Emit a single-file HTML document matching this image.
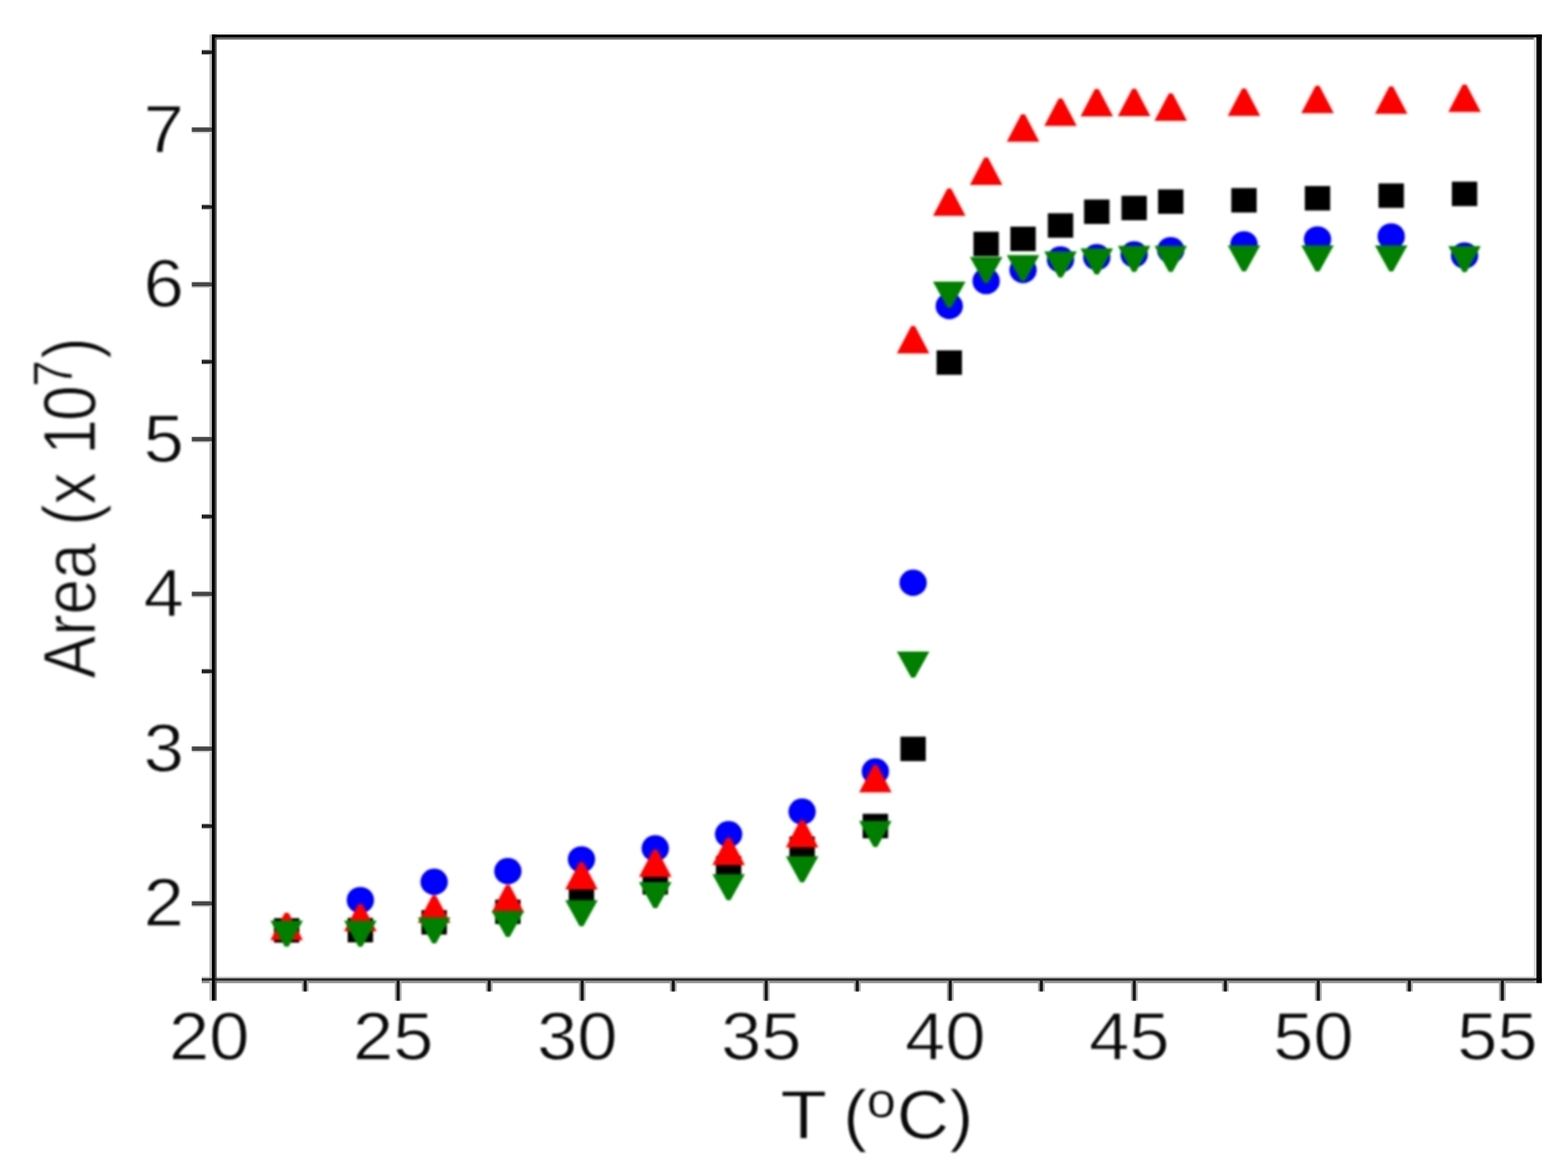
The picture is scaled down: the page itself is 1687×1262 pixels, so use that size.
<!DOCTYPE html>
<html lang="en">
<head>
<meta charset="utf-8">
<title>Area (x 10^7) versus T (oC)</title>
<style>
html,body{margin:0;padding:0;background:#fff;}
body{width:1687px;height:1262px;overflow:hidden;}
svg{display:block;}
text{font-family:"Liberation Sans",Arial,Helvetica,sans-serif;fill:#0a0a0a;stroke:#fff;stroke-width:0.9px;stroke-linejoin:round;}
text .sup{stroke-width:0.54px;}
.ax{fill:#0a0a0a;}
.k{fill:#000;}.r{fill:#ff0000;}.b{fill:#0000ff;}.g{fill:#008000;}
</style>
</head>
<body>
<svg width="1687" height="1262" viewBox="0 0 1687 1262">
<rect x="0" y="0" width="1687" height="1262" fill="#ffffff"/>
<defs>
<filter id="bt" x="0" y="0" width="1687" height="1262" filterUnits="userSpaceOnUse" color-interpolation-filters="sRGB"><feGaussianBlur stdDeviation="0.8"/></filter>
<clipPath id="plot"><rect x="250" y="60" width="1384" height="976"/></clipPath>
<filter id="soft" x="236" y="46" width="1412" height="1004" filterUnits="userSpaceOnUse" color-interpolation-filters="sRGB">
<feColorMatrix in="SourceGraphic" type="matrix" values="0.299 0.587 0.114 0 0  0.299 0.587 0.114 0 0  0.299 0.587 0.114 0 0  0 0 0 1 0" result="luma"/>
<feColorMatrix in="SourceGraphic" type="matrix" values="0.3505 -0.2935 -0.057 0 0.50196  -0.1495 0.2065 -0.057 0 0.50196  -0.1495 -0.2935 0.443 0 0.50196  0 0 0 1 0" result="chroma"/>
<feGaussianBlur in="luma" stdDeviation="0.8" result="lumaB"/>
<feGaussianBlur in="chroma" stdDeviation="2.2" result="chromaB"/>
<feComposite in="lumaB" in2="chromaB" operator="arithmetic" k1="0" k2="1" k3="2" k4="-1.00392"/>
</filter>
</defs>
<g clip-path="url(#plot)">
<g class="pts" filter="url(#soft)">
<rect x="236" y="46" width="1412" height="1004" fill="#ffffff"/>
<g class="b">
<ellipse cx="387.7" cy="968.4" rx="14.7" ry="14.2"/>
<ellipse cx="467.1" cy="948.7" rx="14.7" ry="14.2"/>
<ellipse cx="546.4" cy="937.3" rx="14.7" ry="14.2"/>
<ellipse cx="625.6" cy="924.6" rx="14.7" ry="14.2"/>
<ellipse cx="705" cy="912.7" rx="14.7" ry="14.2"/>
<ellipse cx="783.9" cy="897.5" rx="14.7" ry="14.2"/>
<ellipse cx="863" cy="873.2" rx="14.7" ry="14.2"/>
<ellipse cx="941.8" cy="830" rx="14.7" ry="14.2"/>
<ellipse cx="982.4" cy="627" rx="14.7" ry="14.2"/>
<ellipse cx="1021.3" cy="329.2" rx="14.7" ry="14.2"/>
<ellipse cx="1061" cy="302.4" rx="14.7" ry="14.2"/>
<ellipse cx="1100.7" cy="290.5" rx="14.7" ry="14.2"/>
<ellipse cx="1141" cy="279.3" rx="14.7" ry="14.2"/>
<ellipse cx="1180" cy="276.7" rx="14.7" ry="14.2"/>
<ellipse cx="1220.2" cy="273.8" rx="14.7" ry="14.2"/>
<ellipse cx="1259.6" cy="269.1" rx="14.7" ry="14.2"/>
<ellipse cx="1338.4" cy="262.9" rx="14.7" ry="14.2"/>
<ellipse cx="1417.5" cy="257.6" rx="14.7" ry="14.2"/>
<ellipse cx="1496.8" cy="254.4" rx="14.7" ry="14.2"/>
<ellipse cx="1575.7" cy="275" rx="14.7" ry="14.2"/>
</g>
<g class="k">
<rect x="294.75" y="987.85" width="27.3" height="26.3"/>
<rect x="374.05" y="987.55" width="27.3" height="26.3"/>
<rect x="453.45" y="979.15" width="27.3" height="26.3"/>
<rect x="532.75" y="967.85" width="27.3" height="26.3"/>
<rect x="611.95" y="948.85" width="27.3" height="26.3"/>
<rect x="691.35" y="936.15" width="27.3" height="26.3"/>
<rect x="770.25" y="920.85" width="27.3" height="26.3"/>
<rect x="849.35" y="899.85" width="27.3" height="26.3"/>
<rect x="928.15" y="875.55" width="27.3" height="26.3"/>
<rect x="968.75" y="792.55" width="27.3" height="26.3"/>
<rect x="1007.65" y="376.95" width="27.3" height="26.3"/>
<rect x="1047.35" y="249.35" width="27.3" height="26.3"/>
<rect x="1087.05" y="243.85" width="27.3" height="26.3"/>
<rect x="1127.35" y="229.45" width="27.3" height="26.3"/>
<rect x="1166.35" y="214.65" width="27.3" height="26.3"/>
<rect x="1206.55" y="210.65" width="27.3" height="26.3"/>
<rect x="1245.95" y="203.75" width="27.3" height="26.3"/>
<rect x="1324.75" y="202.35" width="27.3" height="26.3"/>
<rect x="1403.85" y="200.15" width="27.3" height="26.3"/>
<rect x="1483.15" y="197.35" width="27.3" height="26.3"/>
<rect x="1562.05" y="195.45" width="27.3" height="26.3"/>
</g>
<g class="r">
<polygon points="306.4,982.1 310.4,982.1 325.9,1011.6 290.9,1011.6"/>
<polygon points="385.7,972.4 389.7,972.4 405.2,1001.9 370.2,1001.9"/>
<polygon points="465.1,963.6 469.1,963.6 484.6,993.1 449.6,993.1"/>
<polygon points="544.4,952.2 548.4,952.2 563.9,981.7 528.9,981.7"/>
<polygon points="623.6,927.4 627.6,927.4 643.1,956.9 608.1,956.9"/>
<polygon points="703,914.1 707,914.1 722.5,943.6 687.5,943.6"/>
<polygon points="781.9,901.2 785.9,901.2 801.4,930.7 766.4,930.7"/>
<polygon points="861,882.2 865,882.2 880.5,911.7 845.5,911.7"/>
<polygon points="939.8,823.1 943.8,823.1 959.3,852.6 924.3,852.6"/>
<polygon points="980.4,350.7 984.4,350.7 999.9,380.2 964.9,380.2"/>
<polygon points="1019.3,202.7 1023.3,202.7 1038.8,232.2 1003.8,232.2"/>
<polygon points="1059,169.4 1063,169.4 1078.5,198.9 1043.5,198.9"/>
<polygon points="1098.7,122.9 1102.7,122.9 1118.2,152.4 1083.2,152.4"/>
<polygon points="1139,106.1 1143,106.1 1158.5,135.6 1123.5,135.6"/>
<polygon points="1178,95.8 1182,95.8 1197.5,125.3 1162.5,125.3"/>
<polygon points="1218.2,95.6 1222.2,95.6 1237.7,125.1 1202.7,125.1"/>
<polygon points="1257.6,100.4 1261.6,100.4 1277.1,129.9 1242.1,129.9"/>
<polygon points="1336.4,95.3 1340.4,95.3 1355.9,124.8 1320.9,124.8"/>
<polygon points="1415.5,92.2 1419.5,92.2 1435,121.7 1400,121.7"/>
<polygon points="1494.8,93 1498.8,93 1514.3,122.5 1479.3,122.5"/>
<polygon points="1573.7,91.1 1577.7,91.1 1593.2,120.6 1558.2,120.6"/>
</g>
<g class="g">
<polygon points="290.9,990.6 325.9,990.6 310.4,1018.6 306.4,1018.6"/>
<polygon points="370.2,990.6 405.2,990.6 389.7,1018.6 385.7,1018.6"/>
<polygon points="449.6,987 484.6,987 469.1,1015 465.1,1015"/>
<polygon points="528.9,980 563.9,980 548.4,1008 544.4,1008"/>
<polygon points="608.1,968.5 643.1,968.5 627.6,996.5 623.6,996.5"/>
<polygon points="687.5,949.1 722.5,949.1 707,977.1 703,977.1"/>
<polygon points="766.4,940.4 801.4,940.4 785.9,968.4 781.9,968.4"/>
<polygon points="845.5,921.2 880.5,921.2 865,949.2 861,949.2"/>
<polygon points="924.3,883.2 959.3,883.2 943.8,911.2 939.8,911.2"/>
<polygon points="964.9,701 999.9,701 984.4,729 980.4,729"/>
<polygon points="1003.8,303.1 1038.8,303.1 1023.3,331.1 1019.3,331.1"/>
<polygon points="1043.5,276.6 1078.5,276.6 1063,304.6 1059,304.6"/>
<polygon points="1083.2,274.6 1118.2,274.6 1102.7,302.6 1098.7,302.6"/>
<polygon points="1123.5,270.6 1158.5,270.6 1143,298.6 1139,298.6"/>
<polygon points="1162.5,267.3 1197.5,267.3 1182,295.3 1178,295.3"/>
<polygon points="1202.7,264.6 1237.7,264.6 1222.2,292.6 1218.2,292.6"/>
<polygon points="1242.1,264.5 1277.1,264.5 1261.6,292.5 1257.6,292.5"/>
<polygon points="1320.9,264.1 1355.9,264.1 1340.4,292.1 1336.4,292.1"/>
<polygon points="1400,264.1 1435,264.1 1419.5,292.1 1415.5,292.1"/>
<polygon points="1479.3,264.1 1514.3,264.1 1498.8,292.1 1494.8,292.1"/>
<polygon points="1558.2,264.8 1593.2,264.8 1577.7,292.8 1573.7,292.8"/>
</g>
</g>
</g>
<g class="frame">
<rect x="217" y="1050.6" width="1441.8" height="1.8" fill="#d0d0d0"/>
<rect x="217" y="1055" width="1441.8" height="2.7" fill="#8c8c8c"/>
<rect x="228" y="40.2" width="1430.8" height="2.4" fill="#666666"/>
<rect x="225.4" y="37.2" width="2.7" height="1039.4" fill="#b8b8b8"/>
<rect x="231" y="37.2" width="2.2" height="1039.4" fill="#555555"/>
<rect x="1650.2" y="40" width="3" height="1015.6" fill="#d6d6d6"/>
<rect x="324.7" y="1056" width="7.2" height="10.6" fill="#a6a6a6"/>
<rect x="326.7" y="1054" width="3.2" height="12.6" fill="#161616"/>
<rect x="424.7" y="1056" width="7.2" height="20.6" fill="#a6a6a6"/>
<rect x="426.7" y="1054" width="3.2" height="22.6" fill="#161616"/>
<rect x="522.7" y="1056" width="7.2" height="10.6" fill="#a6a6a6"/>
<rect x="524.7" y="1054" width="3.2" height="12.6" fill="#161616"/>
<rect x="622.7" y="1056" width="7.2" height="20.6" fill="#a6a6a6"/>
<rect x="624.7" y="1054" width="3.2" height="22.6" fill="#161616"/>
<rect x="720.7" y="1056" width="7.2" height="10.6" fill="#a6a6a6"/>
<rect x="722.7" y="1054" width="3.2" height="12.6" fill="#161616"/>
<rect x="820.7" y="1056" width="7.2" height="20.6" fill="#a6a6a6"/>
<rect x="822.7" y="1054" width="3.2" height="22.6" fill="#161616"/>
<rect x="918.7" y="1056" width="7.2" height="10.6" fill="#a6a6a6"/>
<rect x="920.7" y="1054" width="3.2" height="12.6" fill="#161616"/>
<rect x="1018.7" y="1056" width="7.2" height="20.6" fill="#a6a6a6"/>
<rect x="1020.7" y="1054" width="3.2" height="22.6" fill="#161616"/>
<rect x="1116.7" y="1056" width="7.2" height="10.6" fill="#a6a6a6"/>
<rect x="1118.7" y="1054" width="3.2" height="12.6" fill="#161616"/>
<rect x="1216.7" y="1056" width="7.2" height="20.6" fill="#a6a6a6"/>
<rect x="1218.7" y="1054" width="3.2" height="22.6" fill="#161616"/>
<rect x="1314.7" y="1056" width="7.2" height="10.6" fill="#a6a6a6"/>
<rect x="1316.7" y="1054" width="3.2" height="12.6" fill="#161616"/>
<rect x="1414.7" y="1056" width="7.2" height="20.6" fill="#a6a6a6"/>
<rect x="1416.7" y="1054" width="3.2" height="22.6" fill="#161616"/>
<rect x="1512.7" y="1056" width="7.2" height="10.6" fill="#a6a6a6"/>
<rect x="1514.7" y="1054" width="3.2" height="12.6" fill="#161616"/>
<rect x="1612.7" y="1056" width="7.2" height="20.6" fill="#a6a6a6"/>
<rect x="1614.7" y="1054" width="3.2" height="22.6" fill="#161616"/>
<rect x="206.4" y="969.1" width="20.6" height="6.8" fill="#d4d4d4"/>
<rect x="206.4" y="969.7" width="22.6" height="4.6" fill="#464646"/>
<rect x="217" y="885.95" width="10" height="5.6" fill="#b0b0b0"/>
<rect x="217" y="886.85" width="12" height="3.8" fill="#222222"/>
<rect x="206.4" y="802.6" width="20.6" height="6.8" fill="#d4d4d4"/>
<rect x="206.4" y="803.2" width="22.6" height="4.6" fill="#464646"/>
<rect x="217" y="719.45" width="10" height="5.6" fill="#b0b0b0"/>
<rect x="217" y="720.35" width="12" height="3.8" fill="#222222"/>
<rect x="206.4" y="636.1" width="20.6" height="6.8" fill="#d4d4d4"/>
<rect x="206.4" y="636.7" width="22.6" height="4.6" fill="#464646"/>
<rect x="217" y="552.95" width="10" height="5.6" fill="#b0b0b0"/>
<rect x="217" y="553.85" width="12" height="3.8" fill="#222222"/>
<rect x="206.4" y="469.6" width="20.6" height="6.8" fill="#d4d4d4"/>
<rect x="206.4" y="470.2" width="22.6" height="4.6" fill="#464646"/>
<rect x="217" y="386.45" width="10" height="5.6" fill="#b0b0b0"/>
<rect x="217" y="387.35" width="12" height="3.8" fill="#222222"/>
<rect x="206.4" y="303.1" width="20.6" height="6.8" fill="#d4d4d4"/>
<rect x="206.4" y="303.7" width="22.6" height="4.6" fill="#464646"/>
<rect x="217" y="219.95" width="10" height="5.6" fill="#b0b0b0"/>
<rect x="217" y="220.85" width="12" height="3.8" fill="#222222"/>
<rect x="206.4" y="136.6" width="20.6" height="6.8" fill="#d4d4d4"/>
<rect x="206.4" y="137.2" width="22.6" height="4.6" fill="#464646"/>
<rect x="217" y="53.45" width="10" height="5.6" fill="#b0b0b0"/>
<rect x="217" y="54.35" width="12" height="3.8" fill="#222222"/>
<rect x="217" y="1052.4" width="1441.8" height="2.6" fill="#2a2a2a"/>
<rect x="228" y="37.2" width="1430.8" height="3.1" fill="#000000"/>
<rect x="228" y="37.2" width="3.1" height="1039.4" fill="#000000"/>
<rect x="1653.1" y="37.2" width="5.7" height="1020.4" fill="#050505"/>
</g>
<g class="lab" filter="url(#bt)">
<g font-size="72.2">
<text transform="translate(225,1139.9) scale(1.08,1)" text-anchor="middle">20</text>
<text transform="translate(423,1139.9) scale(1.08,1)" text-anchor="middle">25</text>
<text transform="translate(621,1139.9) scale(1.08,1)" text-anchor="middle">30</text>
<text transform="translate(819,1139.9) scale(1.08,1)" text-anchor="middle">35</text>
<text transform="translate(1017,1139.9) scale(1.08,1)" text-anchor="middle">40</text>
<text transform="translate(1215,1139.9) scale(1.08,1)" text-anchor="middle">45</text>
<text transform="translate(1413,1139.9) scale(1.08,1)" text-anchor="middle">50</text>
<text transform="translate(1611,1139.9) scale(1.08,1)" text-anchor="middle">55</text>
<text transform="translate(197.8,996.4) scale(1.08,1)" text-anchor="end">2</text>
<text transform="translate(197.8,829.9) scale(1.08,1)" text-anchor="end">3</text>
<text transform="translate(197.8,663.4) scale(1.08,1)" text-anchor="end">4</text>
<text transform="translate(197.8,496.9) scale(1.08,1)" text-anchor="end">5</text>
<text transform="translate(197.8,330.4) scale(1.08,1)" text-anchor="end">6</text>
<text transform="translate(197.8,163.9) scale(1.08,1)" text-anchor="end">7</text>
</g>
<text font-size="74.5" transform="translate(839.6,1224.6) scale(1.05,1)"><tspan textLength="48.01" lengthAdjust="spacingAndGlyphs">T</tspan><tspan dx="-4.4"> (</tspan><tspan class="sup" font-size="53.64" dx="-0.6" dy="-22.3">o</tspan><tspan dx="0.8" dy="22.3">C)</tspan></text>
<text font-size="68.8" transform="translate(102.4,729.9) scale(1.16,1) rotate(-90)">Area (x 1<tspan dx="-2">0</tspan><tspan class="sup" font-size="51.6" dx="-1.7" dy="-21.8">7</tspan><tspan dx="1.7" dy="21.8">)</tspan></text>
</g>
</svg>
</body>
</html>
